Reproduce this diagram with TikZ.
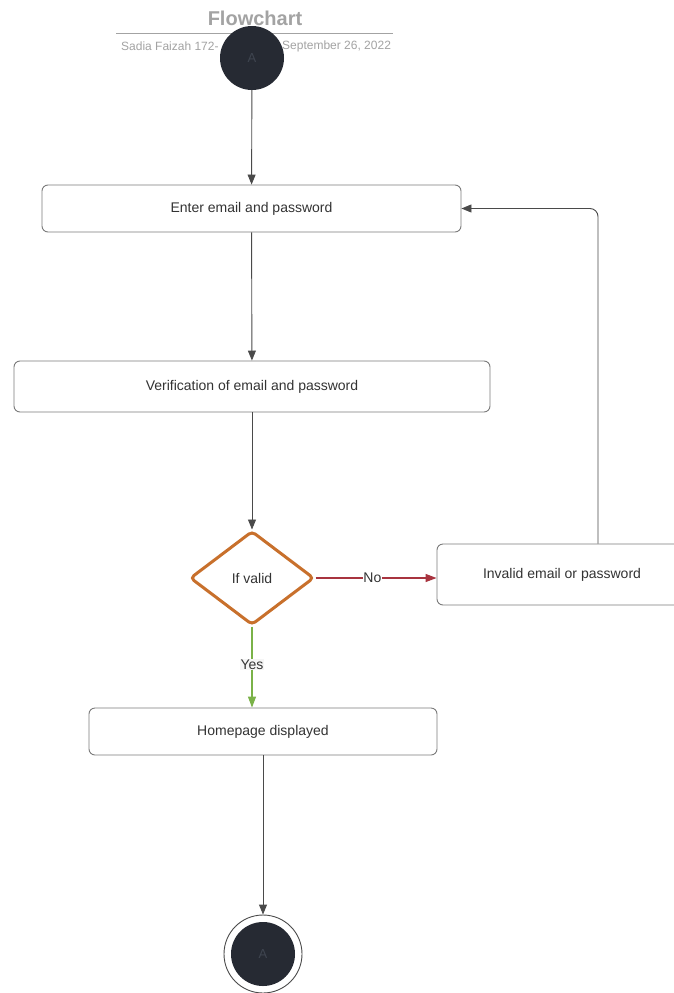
\documentclass[tikz,border=0pt]{standalone}
\usepackage{fontspec}
\setmainfont{Liberation Sans}
\usetikzlibrary{shapes.geometric,arrows.meta,calc}
\definecolor{ink}{HTML}{333333}
\definecolor{edgegray}{HTML}{4A4A4A}
\definecolor{boxgray}{HTML}{7A7A7A}
\definecolor{titlegray}{HTML}{A3A3A3}
\definecolor{dot}{HTML}{262A33}
\definecolor{dotletter}{HTML}{3F4550}
\definecolor{decision}{HTML}{C8702C}
\definecolor{nored}{HTML}{A8343F}
\definecolor{yesgreen}{HTML}{7AB248}
\tikzset{
  stepbox/.style={draw=boxgray, line width=0.9pt, rounded corners=6pt, fill=white,
    inner sep=0pt, text=ink, font=\fontsize{14}{16}\selectfont},
  flow/.style={draw=edgegray, line width=0.9pt, -{Triangle[length=10pt,width=8pt]}},
  dotnode/.style={circle, fill=dot, inner sep=0pt, minimum size=64pt,
    text=dotletter, font=\fontsize{13}{15}\selectfont},
}
\begin{document}
\begin{tikzpicture}[x=1pt,y=-1pt]
\useasboundingbox (0,0) rectangle (674,993);
\clip (0,0) rectangle (674,993);
\fill[white] (0,0) rectangle (674,993);

% heading
\node[text=titlegray, font=\bfseries\fontsize{20}{22}\selectfont] (title) at (255,18) {Flowchart};
\coordinate (ruleL) at (116,33.5);
\coordinate (ruleR) at (393,33.5);
\draw[titlegray, line width=1pt] (ruleL) -- (ruleR);
\node[text=titlegray, font=\fontsize{12}{14}\selectfont, anchor=west, inner sep=0pt] (subL) at (121,46) {Sadia Faizah 172-};
\node[text=titlegray, font=\fontsize{12}{14}\selectfont, anchor=west, inner sep=0pt] (subR) at (282,46) {September 26, 2022};

% start and end
\node[dotnode] (start) at (252,58) {A};
\node[circle, draw=edgegray, line width=0.9pt, minimum size=78pt, inner sep=0pt] (endring) at (263,954) {};
\node[dotnode] (end) at (263,954) {A};

% steps
\node[stepbox, minimum width=419pt, minimum height=47pt] (b1) at (251.5,208.5) {Enter email and password};
\node[stepbox, minimum width=476pt, minimum height=51pt] (b2) at (252,386.5) {Verification of email and password};
\node[diamond, aspect=1.32, draw=decision, line width=3pt, rounded corners=4pt,
      minimum width=124pt, minimum height=94pt, inner sep=0pt, fill=white,
      text=ink, font=\fontsize{14}{16}\selectfont] (dec) at (252,578) {If valid};
\node[stepbox, minimum width=250pt, minimum height=61pt] (inv) at (562,574.5) {Invalid email or password};
\node[stepbox, minimum width=348pt, minimum height=47pt] (home) at (263,731.5) {Homepage displayed};

% connectors
\draw[flow] (start) -- (b1);
\draw[flow] (b1) -- (b2);
\draw[flow] (b2) -- (dec.north);
\draw[draw=nored, line width=1.2pt, -{Triangle[length=11pt,width=8pt]}, nored]
  (dec.east) -- node[fill=white, inner sep=0.5pt, text=ink, font=\fontsize{14}{16}\selectfont, pos=0.47] (nolab) {No} (dec.east -| inv.west);
\draw[draw=yesgreen, line width=1.2pt, -{Triangle[length=11pt,width=8pt]}, yesgreen]
  (dec.south) -- node[fill=white!96!black, inner sep=1pt, text=ink, font=\fontsize{14}{16}\selectfont, pos=0.47] (yeslab) {Yes} (dec.south |- home.north);
\coordinate (fb) at (598,0);
\draw[flow, rounded corners=8pt] (inv.north -| fb) |- (b1.east);
\draw[flow] (home.south -| end) -- (endring.north);
\end{tikzpicture}
\end{document}
